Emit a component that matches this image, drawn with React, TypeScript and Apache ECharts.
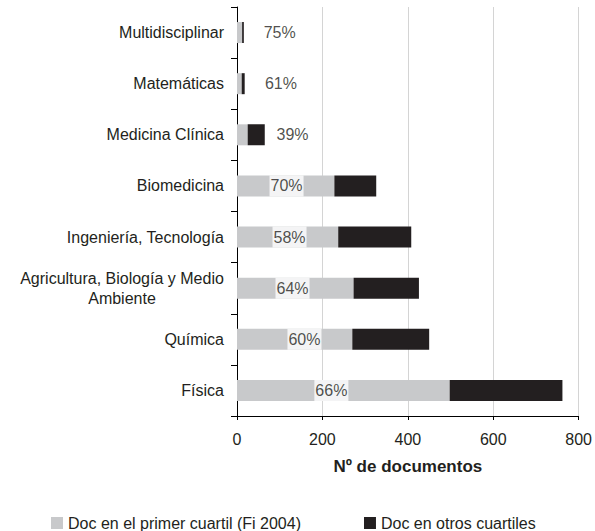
import React, { useEffect, useRef } from "react";
import * as echarts from "echarts";

const categories = [
  "Multidisciplinar",
  "Matemáticas",
  "Medicina Clínica",
  "Biomedicina",
  "Ingeniería, Tecnología",
  "Agricultura, Biología y Medio Ambiente",
  "Química",
  "Física",
];
const firstQuartile = [12, 11, 25, 228, 237, 273, 270, 498];
const otherQuartiles = [4, 7, 40, 98, 171, 153, 180, 264];
const percentLabels = ["75%", "61%", "39%", "70%", "58%", "64%", "60%", "66%"];
const labelPositions = [100, 103, 130, 116, 123, 130, 158, 221];
const xTicks = [0, 200, 400, 600, 800];

const FONT = "'Liberation Sans', Arial, sans-serif";
const TEXT = "#231f20";

export default function App() {
  const ref = useRef<HTMLDivElement>(null);
  useEffect(() => {
    if (!ref.current) return;
    const chart = echarts.init(ref.current, null, { renderer: "svg" });
    chart.setOption({
      animation: false,
      textStyle: { fontFamily: FONT, color: TEXT },
      grid: { left: 237, top: 7, width: 343, height: 409, containLabel: false },
      legend: {
        data: ["Doc en el primer cuartil (Fi 2004)", "Doc en otros cuartiles"],
        left: 46,
        top: 510,
        itemWidth: 12,
        itemHeight: 12,
        itemGap: 63,
        icon: "rect",
        textStyle: { fontFamily: FONT, fontSize: 16, color: TEXT },
      },
      xAxis: {
        type: "value",
        min: xTicks[0],
        max: xTicks[xTicks.length - 1],
        interval: 200,
        name: "Nº de documentos",
        nameLocation: "middle",
        nameGap: 42,
        nameTextStyle: { fontFamily: FONT, fontSize: 17, fontWeight: "bold", color: TEXT },
        axisLine: { show: true, lineStyle: { color: "#000", width: 1 } },
        axisTick: { show: true, length: 4, lineStyle: { color: "#000" } },
        axisLabel: { fontFamily: FONT, fontSize: 16, color: TEXT, margin: 15 },
        splitLine: { show: true, lineStyle: { color: "#d4d4d4", width: 1 } },
      },
      yAxis: {
        type: "category",
        data: categories,
        inverse: true,
        axisLine: { show: true, lineStyle: { color: "#000", width: 1 } },
        axisTick: { show: true, length: 6, lineStyle: { color: "#000" } },
        axisLabel: {
          fontFamily: FONT,
          fontSize: 16,
          color: TEXT,
          margin: 13,
          formatter: (v: string) => {
            if (v === "Agricultura, Biología y Medio Ambiente") {
              return "{c|Agricultura, Biología y Medio}\n{c|Ambiente}";
            }
            return v;
          },
          rich: {
            c: {
              fontFamily: FONT,
              fontSize: 16,
              color: TEXT,
              width: 204,
              align: "center",
              lineHeight: 20,
            },
          },
        },
        splitLine: { show: false },
      },
      series: [
        {
          name: "Doc en el primer cuartil (Fi 2004)",
          type: "bar",
          stack: "total",
          barWidth: 21,
          itemStyle: { color: "#c8c9cb" },
          data: firstQuartile,
        },
        {
          name: "Doc en otros cuartiles",
          type: "bar",
          stack: "total",
          barWidth: 21,
          itemStyle: { color: "#231f20" },
          data: otherQuartiles,
        },
        {
          name: "pct",
          type: "scatter",
          z: 5,
          symbolSize: 0,
          data: labelPositions.map((x, i) => [x, i]),
          label: {
            show: true,
            position: "inside",
            formatter: (p: any) => percentLabels[p.dataIndex],
            fontFamily: FONT,
            fontSize: 16,
            color: TEXT,
            backgroundColor: "#ffffff",
            lineHeight: 16,
            padding: [3, 1, 2, 1],
          },
        },
      ],
    });
    return () => chart.dispose();
  }, []);
  return (
    <div
      ref={ref}
      style={{ position: "fixed", left: 0, top: 0, width: 595, height: 531, background: "#fff" }}
    />
  );
}
